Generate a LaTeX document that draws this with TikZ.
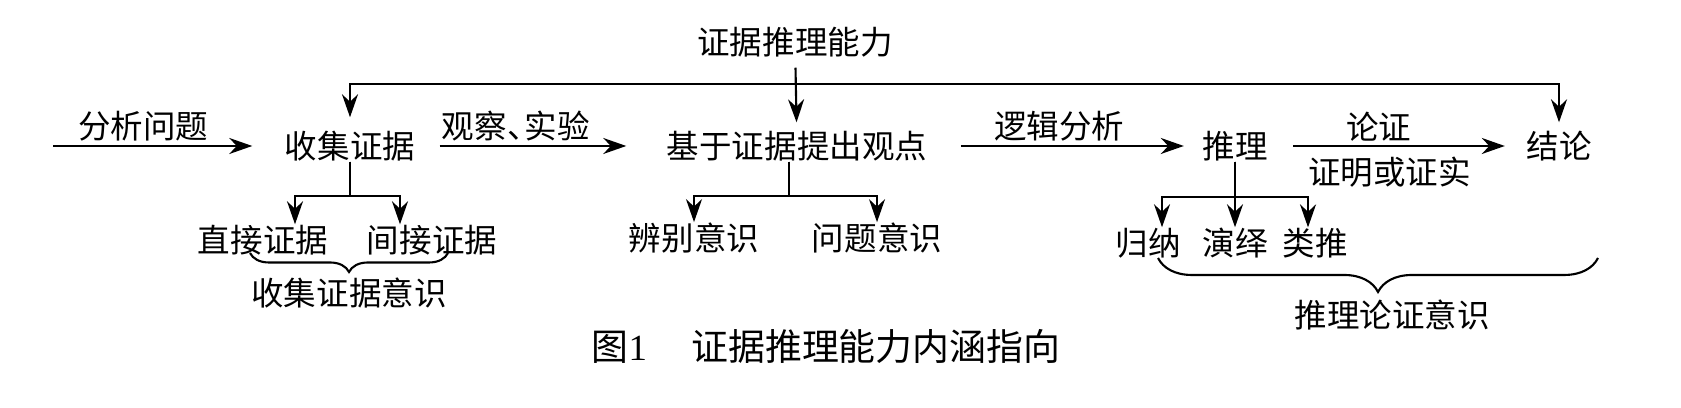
\documentclass[tikz,border=0pt]{standalone}
\usepackage{fontspec}
\setmainfont{Noto Sans CJK SC}
\newfontfamily\numfont{Liberation Serif}
\usepackage{tikz}
\usetikzlibrary{arrows.meta,decorations.pathreplacing}

\begin{document}
\begin{tikzpicture}[
    every node/.style={inner sep=0pt,font=\fontsize{9.25pt}{11pt}\selectfont},
    arr/.style={>={Stealth[length=0.23cm,width=0.16cm]},->,line width=0.6pt},
    lbl/.style={inner sep=1pt},
    brc/.style={decorate,line width=0.6pt,decoration={brace,mirror,amplitude=#1}}
  ]
            \useasboundingbox (0,0) rectangle (16.81,4.08);

            \node (ability) at (7.95,3.66) {证据推理能力};
            \node (collect) at (3.50,2.62) {收集证据};
            \node (viewpoint) at (7.97,2.62) {基于证据提出观点};
            \node (reason) at (12.35,2.62) {推理};
            \node (conclusion) at (15.59,2.62) {结论};
            \coordinate (start) at (0.53,2.62);

            \draw[arr,shorten >=0.32cm] (start) -- (collect)
                node[lbl,pos=0.39,above] {分析问题};
            \draw[arr,shorten <=0.24cm,shorten >=0.40cm] (collect) -- (viewpoint)
                node[lbl,pos=0.40,above] {观察、\kern-0.45em实验};
            \draw[arr,shorten <=0.33cm,shorten >=0.18cm] (viewpoint) -- (reason)
                node[lbl,pos=0.48,above] {逻辑分析};
            \draw[arr,shorten <=0.25cm,shorten >=0.21cm] (reason) -- (conclusion)
                node[lbl,pos=0.43,above] {论证}
                node[lbl,pos=0.47,below=0.06cm] {证明或证实};

            \draw[arr,shorten <=0.1cm,shorten >=0.08cm] (ability) -- (viewpoint);
            \draw[arr,<->,shorten <=0.13cm,shorten >=0.08cm] (collect.north) -- ++(0,0.46) -| (conclusion.north);

            \node (direct) at (2.63,1.68) {直接证据};
            \node (indirect) at (4.32,1.68) {间接证据};
            \draw[arr] (collect.south) -- ++(0,-0.34) -| ([xshift=0.32cm]direct.north);
            \draw[arr] (collect.south) -- ++(0,-0.34) -| ([xshift=-0.32cm]indirect.north);

            \node (discern) at (6.94,1.70) {辨别意识};
            \node (problem) at (8.77,1.70) {问题意识};
            \draw[arr] ([xshift=-0.08cm]viewpoint.south) -- ++(0,-0.34) -| (discern.north);
            \draw[arr] ([xshift=-0.08cm]viewpoint.south) -- ++(0,-0.34) -| (problem.north);

            \node (induce) at (11.48,1.65) {归纳};
            \node (deduce) at (12.35,1.65) {演绎};
            \node (analog) at (13.15,1.65) {类推};
            \draw[arr] (reason.south) -- (reason.south |- deduce.north);
            \draw[arr] (reason.south) -- ++(0,-0.35) -| ([xshift=0.14cm]induce.north);
            \draw[arr] (reason.south) -- ++(0,-0.35) -| ([xshift=-0.07cm]analog.north);

            \draw[brc=0.19cm] (2.50,1.55) -- (4.48,1.55);
            \node (collectaware) at (3.49,1.15) {收集证据意识};
            \draw[brc=0.34cm] (11.58,1.50) -- (15.98,1.50);
            \node (reasonaware) at (13.92,0.93) {推理论证意识};

            \node (caption) at (8.26,0.61) [font=\fontsize{10.5pt}{12pt}\selectfont] {图{\numfont 1}\hspace{1.2em}证据推理能力内涵指向};
        \end{tikzpicture}
\end{document}
